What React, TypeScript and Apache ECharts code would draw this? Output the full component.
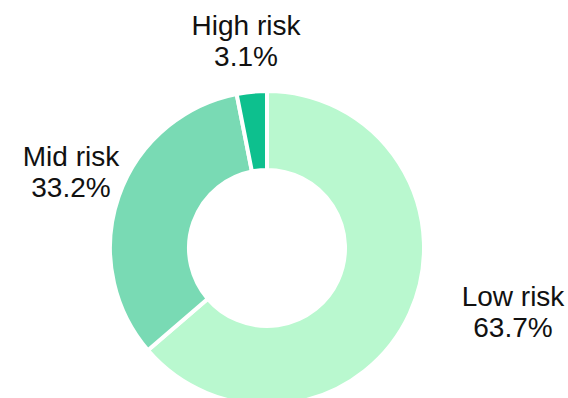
import React, { useEffect, useRef } from "react";
import * as echarts from "echarts";

const categories = ["Low risk", "Mid risk", "High risk"];
const shares = [63.7, 33.2, 3.1];
const sliceColors = ["#B9F8CF", "#79DAB4", "#0DC08E"];

// label anchor positions (px) for each category
const labelAnchors: [number, number][] = [
  [513, 312],
  [71, 172],
  [246, 41],
];

export default function App() {
  const ref = useRef<HTMLDivElement>(null);
  useEffect(() => {
    if (!ref.current) return;
    const chart = echarts.init(ref.current, undefined, { renderer: "svg" });
    chart.setOption({
      animation: false,
      backgroundColor: "#ffffff",
      series: [
        {
          type: "pie",
          center: [267, 248],
          radius: [78, 157],
          startAngle: 90,
          clockwise: true,
          avoidLabelOverlap: false,
          itemStyle: { borderColor: "#ffffff", borderWidth: 4 },
          label: {
            show: true,
            formatter: (p: any) => `${p.name}\n${p.value.toFixed(1)}%`,
            fontFamily: "Liberation Sans, Arial, sans-serif",
            fontSize: 28,
            lineHeight: 31,
            color: "#111111",
            align: "center",
          },
          labelLine: { show: false },
          labelLayout: (params: any) => {
            const a = labelAnchors[params.dataIndex];
            return { x: a[0], y: a[1], align: "center", verticalAlign: "middle" };
          },
          emphasis: { disabled: true },
          data: categories.map((c, i) => ({
            name: c,
            value: shares[i],
            itemStyle: { color: sliceColors[i] },
          })),
        },
      ],
    });
    return () => chart.dispose();
  }, []);
  return (
    <div
      ref={ref}
      style={{ position: "absolute", left: 0, top: 0, width: 568, height: 398 }}
    />
  );
}
